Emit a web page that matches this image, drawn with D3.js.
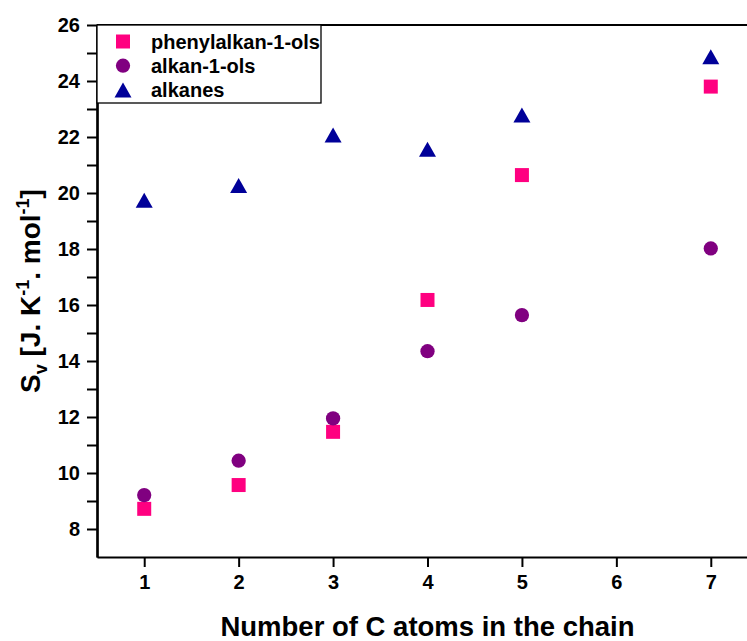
<!DOCTYPE html>
<html><head><meta charset="utf-8">
<script src="https://cdn.jsdelivr.net/npm/d3@7/dist/d3.min.js"></script>
<style>body{margin:0;background:#fff;overflow:hidden}svg{display:block}text{font-family:"Liberation Sans",Arial,sans-serif;font-weight:bold}</style>
</head><body><svg id="c" width="747" height="641"></svg>
<script>
const carbons = [1, 2, 3, 4, 5, 7];
const phenylalkanols = [8.72, 9.57, 11.47, 16.18, 20.64, 23.80];
const alkanols = [9.21, 10.44, 11.95, 14.35, 15.64, 18.02];
const alkanes = [19.74, 20.27, 22.07, 21.56, 22.79, 24.87];
const xTicks = [1, 2, 3, 4, 5, 6, 7];
const yTicks = [8, 10, 12, 14, 16, 18, 20, 22, 24, 26];
const yMinor = [9, 11, 13, 15, 17, 19, 21, 23, 25];
const seriesNames = ["phenylalkan-1-ols", "alkan-1-ols", "alkanes"];

const root = d3.select("#c");
root.append("defs").append("clipPath").attr("id", "page").append("rect").attr("x", 0).attr("y", 0).attr("width", 747).attr("height", 641);
const svg = root.append("g").attr("clip-path", "url(#page)");
const L = 97, T = 25, R = 758, B = 557;
const x = d3.scaleLinear().domain([0.5, 7.5]).range([L, R]);
const y = d3.scaleLinear().domain([7, 26]).range([B, T]);

// frame top
svg.append("line").attr("x1", L).attr("x2", R).attr("y1", T).attr("y2", T).attr("stroke", "#000").attr("stroke-width", 2);

svg.append("g").attr("transform", `translate(0,${B})`)
  .call(d3.axisBottom(x).tickValues(xTicks).tickFormat(d3.format("d")).tickSizeInner(10).tickSizeOuter(0).tickPadding(8));
svg.append("g").attr("transform", `translate(${L},0)`)
  .call(d3.axisLeft(y).tickValues(yTicks).tickFormat(d3.format("d")).tickSizeInner(10).tickSizeOuter(0).tickPadding(7));
svg.append("g").attr("transform", `translate(${L},0)`)
  .call(d3.axisLeft(y).tickValues(yMinor).tickFormat("").tickSizeInner(10).tickSizeOuter(0));
svg.selectAll(".domain").attr("stroke-width", 2.2).attr("stroke", "#000");
svg.selectAll(".tick line").attr("stroke-width", 2).attr("stroke", "#000");
svg.selectAll(".tick text").attr("font-size", 20).attr("font-family", "Liberation Sans, Arial, sans-serif").attr("font-weight", "bold").attr("fill", "#000");

// axis titles
svg.append("text").attr("x", (L + R) / 2).attr("y", 636).attr("text-anchor", "middle").attr("font-size", 27.5).text("Number of C atoms in the chain");
const yt = svg.append("text").attr("transform", `translate(40,${(T + B) / 2}) rotate(-90)`).attr("text-anchor", "middle").attr("font-size", 28);
yt.append("tspan").text("S");
yt.append("tspan").attr("font-size", 18).attr("dy", 7).text("v");
yt.append("tspan").attr("dy", -7).text(" [J. K");
yt.append("tspan").attr("font-size", 18).attr("dy", -11).text("-1");
yt.append("tspan").attr("dy", 11).text(". mol");
yt.append("tspan").attr("font-size", 18).attr("dy", -11).text("-1");
yt.append("tspan").attr("dy", 11).text("]");

// triangle centred on its bounding box
const triBox = { draw(ctx, size) { const w = 17, h = 15; ctx.moveTo(0, -h / 2); ctx.lineTo(w / 2, h / 2); ctx.lineTo(-w / 2, h / 2); ctx.closePath(); } };
const colors = ["#FF0080", "#800080", "#000099"];
const shapes = [d3.symbolSquare, d3.symbolCircle, triBox];
const sizes = [196, 160, 150];
const data = [phenylalkanols, alkanols, alkanes];

data.forEach((vals, i) => {
  svg.append("g").selectAll("path").data(vals).join("path")
    .attr("d", d3.symbol().type(shapes[i]).size(sizes[i]))
    .attr("transform", (d, j) => `translate(${x(carbons[j])},${y(d)})`)
    .attr("fill", colors[i]);
});

// legend
const lg = svg.append("g");
lg.append("rect").attr("x", L).attr("y", T).attr("width", 224).attr("height", 78).attr("fill", "#fff").attr("stroke", "#000").attr("stroke-width", 1.3);
seriesNames.forEach((n, i) => {
  const cy = 41.5 + i * 24.2;
  lg.append("path").attr("d", d3.symbol().type(shapes[i]).size(sizes[i])).attr("transform", `translate(123,${cy})`).attr("fill", colors[i]);
  lg.append("text").attr("x", 151).attr("y", cy + 7).attr("font-size", 20).text(n);
});
</script></body></html>
